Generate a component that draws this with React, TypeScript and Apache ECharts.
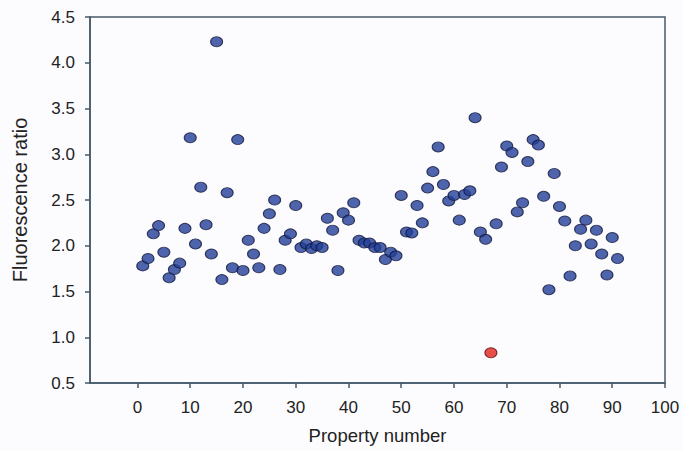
import React, { useEffect, useRef } from "react";
import * as echarts from "echarts";

const propertyNumbers: number[] = Array.from({ length: 91 }, (_, i) => i + 1);
const ratios: number[] = [
  1.78, 1.86, 2.13, 2.22, 1.93, 1.65, 1.74, 1.81, 2.19, 3.18,
  2.02, 2.64, 2.23, 1.91, 4.23, 1.63, 2.58, 1.76, 3.16, 1.73,
  2.06, 1.91, 1.76, 2.19, 2.35, 2.5, 1.74, 2.06, 2.13, 2.44,
  1.98, 2.02, 1.97, 2.0, 1.98, 2.3, 2.17, 1.73, 2.36, 2.28,
  2.47, 2.06, 2.03, 2.03, 1.98, 1.98, 1.85, 1.93, 1.89, 2.55,
  2.15, 2.14, 2.44, 2.25, 2.63, 2.81, 3.08, 2.67, 2.49, 2.55,
  2.28, 2.56, 2.6, 3.4, 2.15, 2.07, 0.83, 2.24, 2.86, 3.09,
  3.02, 2.37, 2.47, 2.92, 3.16, 3.1, 2.54, 1.52, 2.79, 2.43,
  2.27, 1.67, 2.0, 2.18, 2.28, 2.02, 2.17, 1.91, 1.68, 2.09,
  1.86,
];
const outlierProperty = 67;
const xTickValues: number[] = [0, 10, 20, 30, 40, 50, 60, 70, 80, 90, 100];

const FONT = "'Liberation Sans', Arial, Helvetica, sans-serif";
const AXIS_COLOR = "#46596a";
const TEXT_COLOR = "#222222";

export default function App() {
  const ref = useRef<HTMLDivElement>(null);
  useEffect(() => {
    if (!ref.current) return;
    const chart = echarts.init(ref.current, undefined, { renderer: "svg" });
    const normal: number[][] = [];
    const outlier: number[][] = [];
    propertyNumbers.forEach((p, i) => {
      if (p === outlierProperty) outlier.push([p, ratios[i]]);
      else normal.push([p, ratios[i]]);
    });
    chart.setOption({
      animation: false,
      backgroundColor: "#fcfcfe",
      grid: {
        left: 90,
        top: 17,
        right: 18,
        bottom: 68,
        show: true,
        borderColor: AXIS_COLOR,
        borderWidth: 1.5,
        backgroundColor: "transparent",
      },
      xAxis: {
        type: "value",
        min: -9,
        max: 100,
        name: "Property number",
        nameLocation: "middle",
        nameGap: 43,
        nameTextStyle: { fontFamily: FONT, fontSize: 18.5, color: TEXT_COLOR },
        splitLine: { show: false },
        axisLine: { show: true, onZero: false, lineStyle: { color: AXIS_COLOR, width: 1.5 } },
        axisTick: {
          show: true,
          length: 5,
          inside: false,
          customValues: xTickValues,
          lineStyle: { color: AXIS_COLOR, width: 1.5 },
        },
        axisLabel: {
          customValues: xTickValues,
          margin: 16,
          fontFamily: FONT,
          fontSize: 17,
          color: TEXT_COLOR,
        },
      },
      yAxis: {
        type: "value",
        min: 0.5,
        max: 4.5,
        interval: 0.5,
        name: "Fluorescence ratio",
        nameLocation: "middle",
        nameGap: 60,
        nameTextStyle: { fontFamily: FONT, fontSize: 20, color: TEXT_COLOR },
        splitLine: { show: false },
        axisLine: { show: true, onZero: false, lineStyle: { color: AXIS_COLOR, width: 1.5 } },
        axisTick: { show: true, length: 5, lineStyle: { color: AXIS_COLOR, width: 1.5 } },
        axisLabel: {
          margin: 15,
          fontFamily: FONT,
          fontSize: 17,
          color: TEXT_COLOR,
          formatter: (v: number) => v.toFixed(1),
        },
      },
      series: [
        {
          type: "scatter",
          data: normal,
          symbol: "circle",
          symbolSize: [12, 10],
          itemStyle: { color: "#223f98", borderColor: "#14183a", borderWidth: 1 },
        },
        {
          type: "scatter",
          data: outlier,
          symbol: "circle",
          symbolSize: [12, 10],
          itemStyle: { color: "#e3231b", borderColor: "#5a1010", borderWidth: 1 },
        },
      ],
    });
    return () => chart.dispose();
  }, []);
  return <div ref={ref} style={{ width: 683, height: 451, position: "absolute", left: 0, top: 0 }} />;
}
